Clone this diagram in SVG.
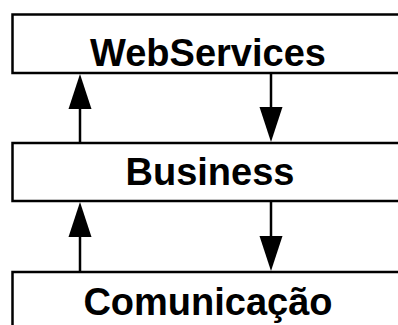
<svg xmlns="http://www.w3.org/2000/svg" width="398" height="325" viewBox="0 0 398 325">
<style>
.box{fill:#fff;stroke:#000;stroke-width:2.5}
.lbl{font-family:"Liberation Sans",Arial,sans-serif;font-weight:bold;font-size:38px;text-anchor:middle;fill:#000}
.con{stroke:#000;stroke-width:2.5;fill:none}
.head{fill:#000}
</style>
<rect width="398" height="325" fill="#fff"/>
<g id="webservices"><rect class="box" x="12.5" y="14.5" width="400" height="58.5"/><text class="lbl" x="208" y="66">WebServices</text></g>
<g id="business"><rect class="box" x="12.5" y="143" width="400" height="58"/><text class="lbl" x="210" y="185">Business</text></g>
<g id="comunicacao"><rect class="box" x="12.5" y="272" width="400" height="70"/><text class="lbl" x="208" y="315">Comunicação</text></g>
<g id="connectors">
<line class="con" x1="80" y1="143" x2="80" y2="105"/><polygon class="head" points="80,74 68.5,109 91.5,109"/>
<line class="con" x1="271" y1="73" x2="271" y2="111"/><polygon class="head" points="271,142 259.5,107 282.5,107"/>
<line class="con" x1="80" y1="272" x2="80" y2="234"/><polygon class="head" points="80,202 68.5,237 91.5,237"/>
<line class="con" x1="271" y1="201" x2="271" y2="240"/><polygon class="head" points="271,271 259.5,236 282.5,236"/>
</g>
</svg>
